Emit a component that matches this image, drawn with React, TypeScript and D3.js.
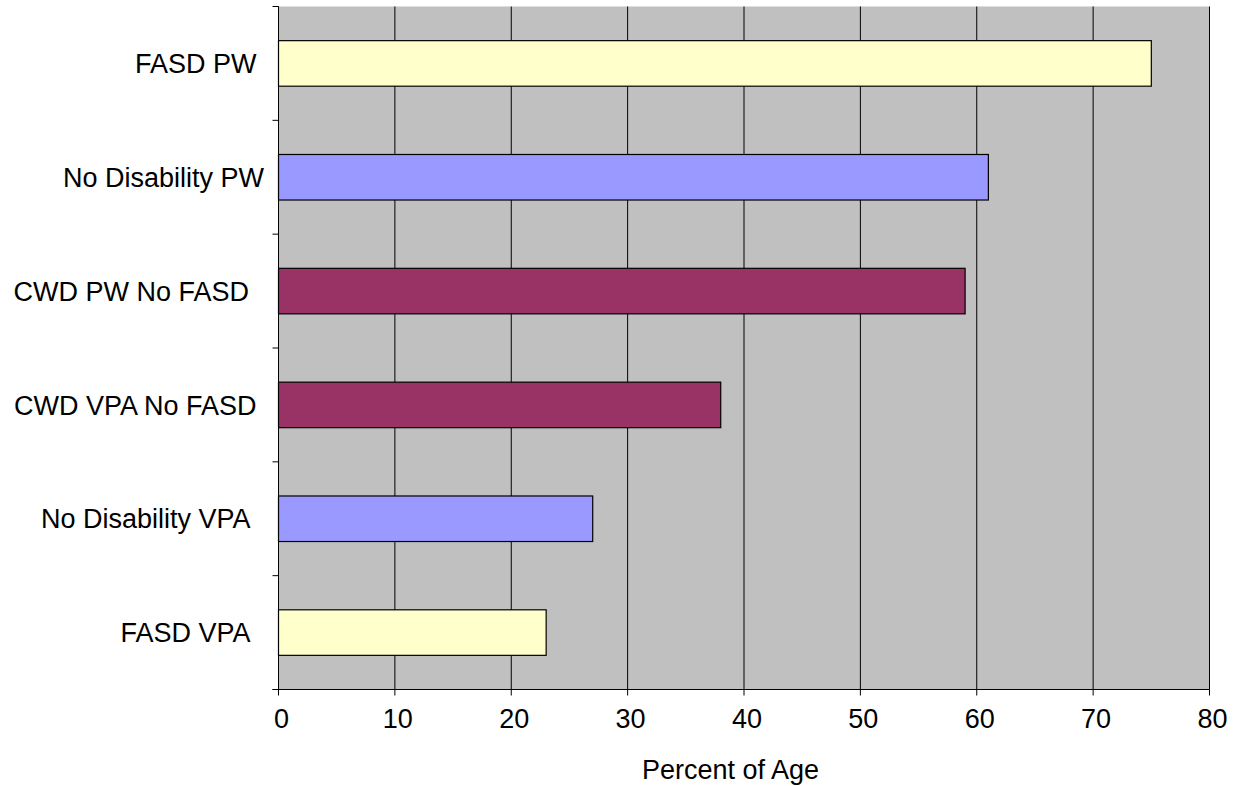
import React from "react";
import * as d3 from "d3";

const categories = ["FASD PW ", "No Disability PW", "CWD PW No FASD  ", "CWD VPA No FASD ", "No Disability VPA  ", "FASD VPA  "];
const values = [75, 61, 59, 38, 27, 23];
const barColors = ["#FFFFCC", "#9999FF", "#993366", "#993366", "#9999FF", "#FFFFCC"];
const xTicks = [0, 10, 20, 30, 40, 50, 60, 70, 80];
const xTitle = "Percent of Age";

export default function App() {
  const W = 1237, H = 786;
  const left = 278.5, right = 1209.5, top = 6.5, bottom = 689.5;
  const x = d3.scaleLinear().domain([0, 80]).range([left, right]);
  const y = d3.scaleBand<string>().domain(categories).range([top, bottom]).padding(0);
  const bw = y.bandwidth();
  const barH = bw * 0.4;
  const font = "Arial, 'Liberation Sans', sans-serif";
  const fs = 27;
  const boundaries = d3.range(categories.length + 1).map((i) => top + i * bw);
  return (
    <svg width={W} height={H} style={{ position: "absolute", left: 0, top: 0, background: "#fff" }}>
      <rect x={left} y={top} width={right - left} height={bottom - top} fill="#C0C0C0" />
      {xTicks.map((t) => (
        <line key={"g" + t} x1={x(t)} x2={x(t)} y1={top} y2={bottom} stroke="#000" strokeWidth={1} />
      ))}
      {categories.map((c, i) => {
        const yc = (y(c) as number) + bw / 2;
        return (
          <g key={c}>
            <rect x={x(0)} y={yc - barH / 2} width={x(values[i]) - x(0)} height={barH} fill={barColors[i]} stroke="#000" strokeWidth={1.2} />
            <text x={264} y={yc + 9.7} textAnchor="end" fontFamily={font} fontSize={fs} fill="#000" style={{ whiteSpace: "pre" }}>{c}</text>
          </g>
        );
      })}
      <line x1={left} x2={left} y1={top} y2={bottom} stroke="#000" />
      {boundaries.map((b, i) => (
        <line key={"yt" + i} x1={left - 6} x2={left} y1={b} y2={b} stroke="#000" />
      ))}
      <line x1={left - 6} x2={right} y1={bottom} y2={bottom} stroke="#000" />
      {xTicks.map((t) => (
        <g key={"xt" + t}>
          <line x1={x(t)} x2={x(t)} y1={bottom} y2={bottom + 6} stroke="#000" />
          <text x={x(t) + 3} y={728} textAnchor="middle" fontFamily={font} fontSize={fs} fill="#000">{t}</text>
        </g>
      ))}
      <text x={730.5} y={779} textAnchor="middle" fontFamily={font} fontSize={fs} fill="#000">{xTitle}</text>
    </svg>
  );
}
